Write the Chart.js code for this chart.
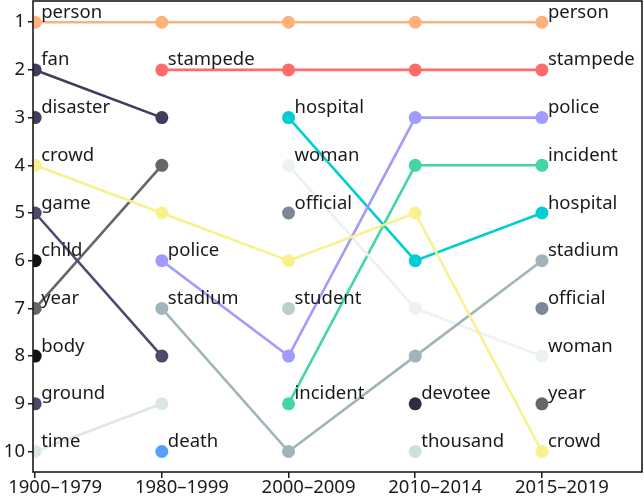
<!DOCTYPE html>
<html>
<head>
<meta charset="utf-8">
<script src="https://cdn.jsdelivr.net/npm/chart.js@4.4.1/dist/chart.umd.min.js"></script>
<style>
  html, body { margin: 0; padding: 0; background: #fff; }
  #wrap { width: 644px; height: 501px; }
</style>
</head>
<body>
<div id="wrap"><canvas id="c" width="644" height="501"></canvas></div>
<script>
// ---- data ----
const periods = ['1900–1979', '1980–1999', '2000–2009', '2010–2014', '2015–2019'];
const rankTicks = [1, 2, 3, 4, 5, 6, 7, 8, 9, 10];
// words ordered by rank (rank 1 first) in each period
const words1900 = ['person', 'fan', 'disaster', 'crowd', 'game', 'child', 'year', 'body', 'ground', 'time'];
const words1980 = ['person', 'stampede', 'fan', 'year', 'crowd', 'police', 'stadium', 'game', 'time', 'death'];
const words2000 = ['person', 'stampede', 'hospital', 'woman', 'official', 'crowd', 'student', 'police', 'incident', 'stadium'];
const words2010 = ['person', 'stampede', 'police', 'incident', 'crowd', 'hospital', 'woman', 'stadium', 'devotee', 'thousand'];
const words2015 = ['person', 'stampede', 'police', 'incident', 'hospital', 'stadium', 'official', 'woman', 'year', 'crowd'];

// ---- styles ----
const wordColors = {
  person: '#ffb17c', stampede: '#ff6b6b', fan: '#3e3d5e', disaster: '#3e3d5e',
  crowd: '#f8f18c', game: '#4c4a6c', child: '#111111', year: '#666666',
  body: '#111111', ground: '#4c4a6c', time: '#dde7e5', police: '#a29bfe',
  stadium: '#9fb5b9', death: '#54a0ff', hospital: '#00ced1', woman: '#ebf2f1',
  official: '#7b8797', student: '#b8cfcd', incident: '#44d6a0', devotee: '#2d2c42',
  thousand: '#cde0de'
};

const periodWords = [words1900, words1980, words2000, words2010, words2015];
const allWords = [];
periodWords.forEach(ws => ws.forEach(w => { if (!allWords.includes(w)) allWords.push(w); }));

const datasets = allWords.map(w => ({
  label: w,
  data: periodWords.map((ws, i) => ({ x: i, y: ws.includes(w) ? ws.indexOf(w) + 1 : null })),
  borderColor: wordColors[w],
  backgroundColor: wordColors[w],
  pointBackgroundColor: wordColors[w],
  pointBorderWidth: 0,
  pointRadius: 6.5,
  borderWidth: 2.6,
  spanGaps: false,
  tension: 0
}));

const FONT = '"Noto Sans", "Open Sans", sans-serif';
const FSIZE = 18.5;

const labelPlugin = {
  id: 'bumpLabels',
  afterDatasetsDraw(chart) {
    const ctx = chart.ctx;
    const xs = chart.scales.x, ys = chart.scales.y;
    ctx.save();
    ctx.font = FSIZE + 'px ' + FONT;
    ctx.fillStyle = '#1a1a1a';
    ctx.textAlign = 'left';
    ctx.textBaseline = 'alphabetic';
    periodWords.forEach((ws, i) => {
      ws.forEach((w, r) => {
        const show = i === 0 || i === periodWords.length - 1 || !periodWords[i - 1].includes(w);
        if (!show) return;
        const px = xs.getPixelForValue(i), py = ys.getPixelForValue(r + 1);
        ctx.fillText(w, px + 6, py - 4.5);
      });
    });
    // x tick labels
    ctx.textAlign = 'center';
    ctx.textBaseline = 'top';
    periods.forEach((p, i) => {
      let px = xs.getPixelForValue(i) + 20;
      const w = ctx.measureText(p).width;
      if (px - w / 2 < 4) px = w / 2;
      ctx.fillText(p, px, chart.chartArea.bottom + 6);
    });
    // frame
    const a = chart.chartArea;
    ctx.strokeStyle = '#1a1a1a';
    ctx.lineWidth = 1.6;
    ctx.strokeRect(a.left, a.top, a.right - a.left, a.bottom - a.top);
    ctx.restore();
  }
};

new Chart(document.getElementById('c'), {
  type: 'line',
  data: { datasets },
  options: {
    responsive: false,
    animation: false,
    layout: { autoPadding: false, padding: { top: 1, right: 2, left: 0, bottom: 0 } },
    plugins: { legend: { display: false }, tooltip: { enabled: false } },
    scales: {
      x: {
        type: 'linear',
        min: -0.017,
        max: 4.79,
        afterBuildTicks: s => { s.ticks = periods.map((p, i) => ({ value: i })); },
        afterFit: s => { s.height = 29; s.paddingLeft = 0; s.paddingRight = 0; },
        ticks: { display: false },
        grid: { display: true, drawOnChartArea: false, drawTicks: true, tickLength: 6, color: '#1a1a1a', lineWidth: 1.5 },
        border: { display: false }
      },
      y: {
        type: 'linear',
        reverse: true,
        min: 0.555,
        max: 10.43,
        afterBuildTicks: s => { s.ticks = rankTicks.map(v => ({ value: v })); },
        afterFit: s => { s.width = 33; s.paddingTop = 0; s.paddingBottom = 0; },
        ticks: { color: '#1a1a1a', font: { family: FONT, size: FSIZE }, padding: 3 },
        grid: { display: true, drawOnChartArea: false, drawTicks: true, tickLength: 5, color: '#1a1a1a', lineWidth: 1.5 },
        border: { display: false }
      }
    }
  },
  plugins: [labelPlugin]
});
</script>
</body>
</html>
